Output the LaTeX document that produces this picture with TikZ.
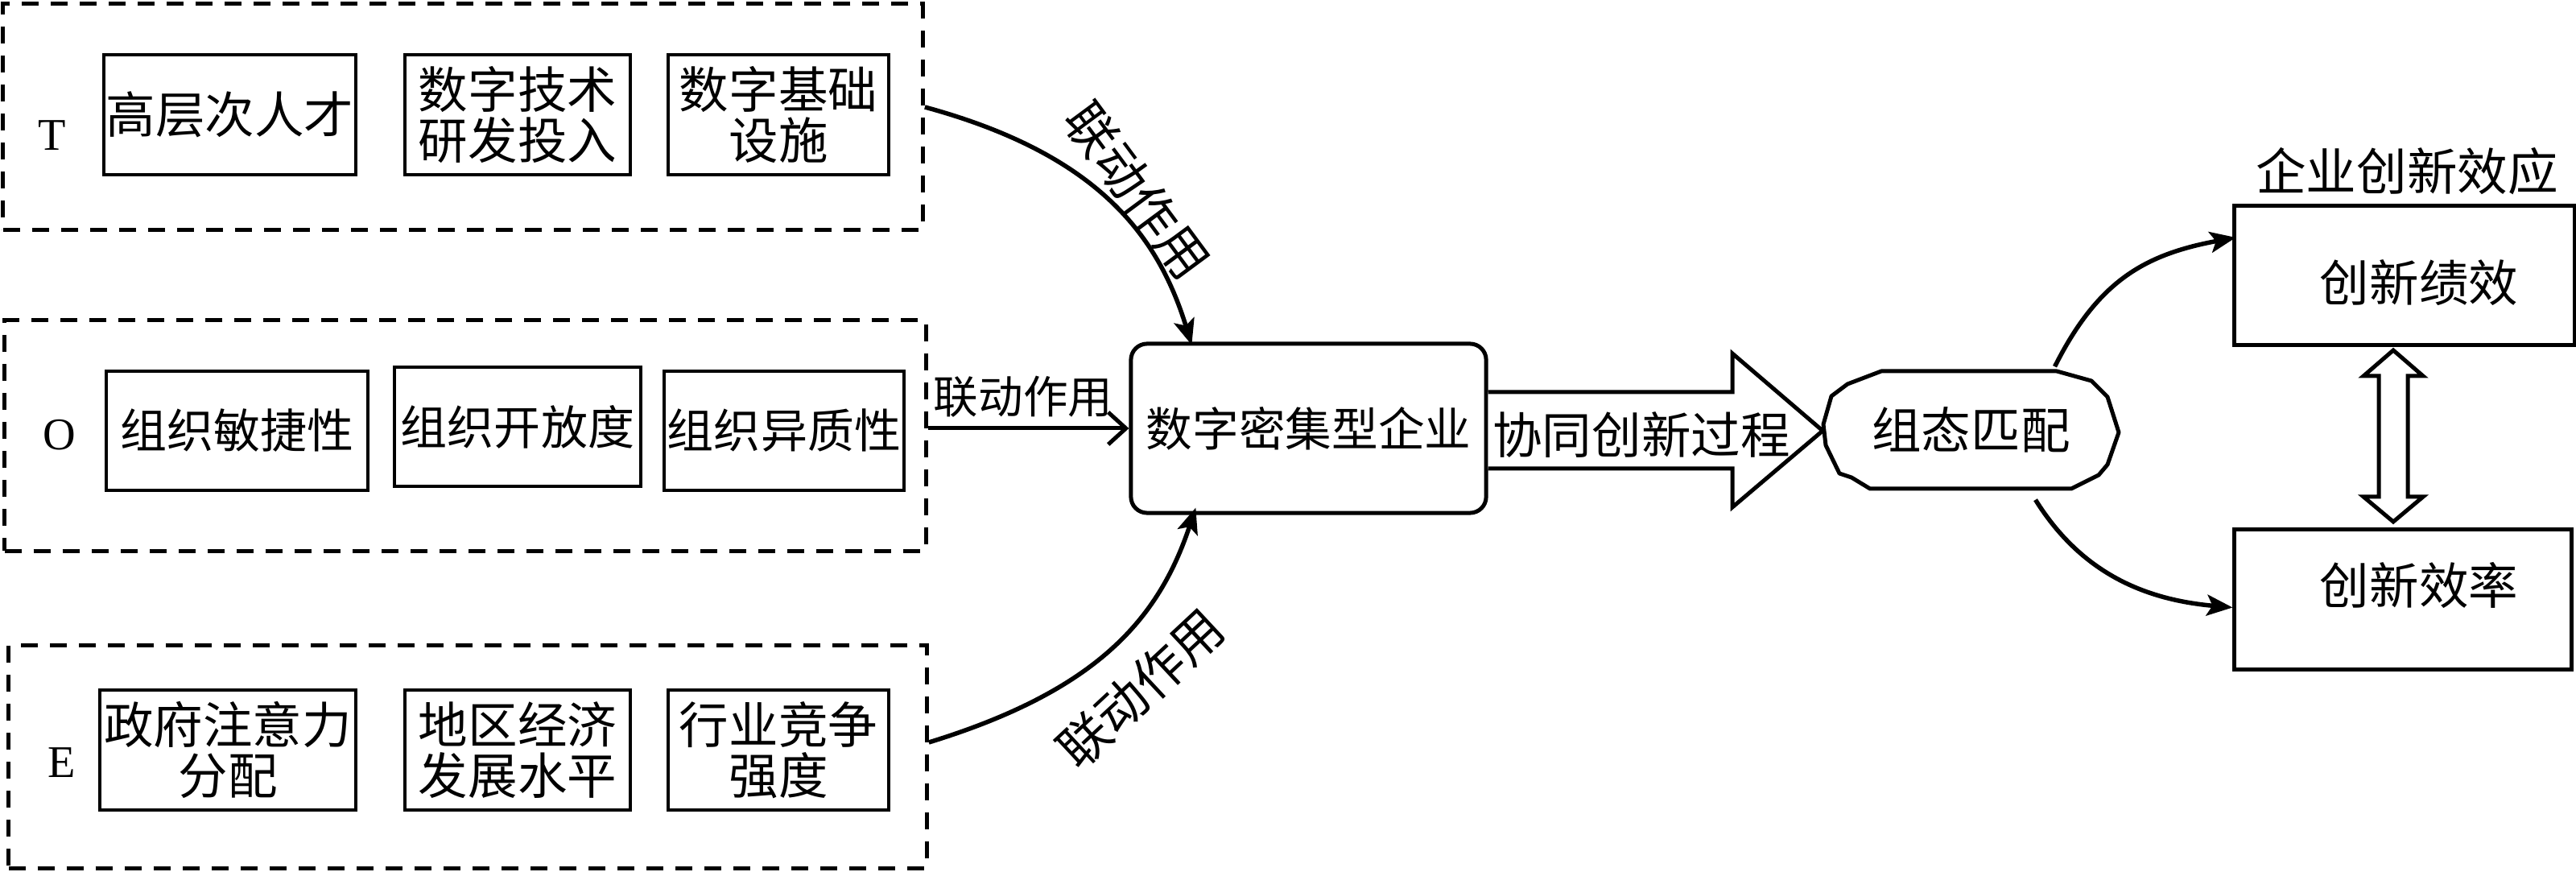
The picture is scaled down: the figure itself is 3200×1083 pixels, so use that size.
\documentclass[tikz,border=0pt]{standalone}
\usepackage{fontspec}
\setmainfont{Noto Sans CJK SC}
\newfontfamily\latfont{Liberation Serif}
\usetikzlibrary{arrows.meta,calc}
\newcommand\fsz[1]{\fontsize{#1pt}{18pt}\selectfont}
\begin{document}
\begin{tikzpicture}[x=0.01cm,y=-0.01cm,
  grp/.style={draw, line width=0.05cm, dash pattern=on 0.21cm off 0.15cm},
  ibox/.style={draw, line width=0.045cm, inner sep=0pt, align=center, font=\fsz{17.5}},
  conn/.style={line width=0.055cm, -{Stealth[length=0.32cm,width=0.26cm,inset=0.07cm]}},
  lbl/.style={inner sep=0pt, font=\fsz{17.5}},
  letterlbl/.style={inner sep=0pt, font=\latfont\fsz{16}},
  rbox/.style={draw, line width=0.05cm, inner sep=0pt},
  outl/.style={draw, line width=0.05cm, fill=white, line join=miter},
]
\useasboundingbox (0,0) rectangle (3200,1083);

% ---- group frames ----
\node[grp, minimum width=11.42cm, minimum height=2.80cm] (Tbox) at (575,145) {};
\node[grp, minimum width=11.44cm, minimum height=2.86cm] (Obox) at (578,541) {};
\node[grp, minimum width=11.40cm, minimum height=2.76cm] (Ebox) at (581,940) {};

\node[letterlbl] (Tl) at (65,168) {T};
\node[letterlbl] (Ol) at (74,540) {O};
\node[letterlbl] (El) at (77,947) {E};

% ---- T items ----
\node[ibox, minimum width=3.13cm, minimum height=1.49cm] (t1) at (285.5,142.5) {高层次人才};
\node[ibox, minimum width=2.80cm, minimum height=1.49cm] (t2) at (643,142.5) {数字技术\\研发投入};
\node[ibox, minimum width=2.74cm, minimum height=1.49cm] (t3) at (967,142.5) {数字基础\\设施};

% ---- O items ----
\node[ibox, font=\fsz{16.5}, minimum width=3.25cm, minimum height=1.48cm] (o1) at (294.5,535) {组织敏捷性};
\node[ibox, font=\fsz{16.5}, minimum width=3.06cm, minimum height=1.48cm] (o2) at (643,530) {组织开放度};
\node[ibox, font=\fsz{16.5}, minimum width=2.98cm, minimum height=1.48cm] (o3) at (974,535) {组织异质性};

% ---- E items ----
\node[ibox, minimum width=3.18cm, minimum height=1.49cm] (e1) at (283,931.5) {政府注意力\\分配};
\node[ibox, minimum width=2.80cm, minimum height=1.49cm] (e2) at (643,931.5) {地区经济\\发展水平};
\node[ibox, minimum width=2.74cm, minimum height=1.49cm] (e3) at (967,931.5) {行业竞争\\强度};

% ---- central firm box ----
\node[draw, line width=0.05cm, rounded corners=0.2cm, minimum width=4.41cm, minimum height=2.10cm,
      inner sep=0pt, font=\fsz{16.4}] (cbox) at (1625.5,532) {数字密集型企业};

% ---- connectors into the firm ----
\draw[conn] ($(Tbox.east)+(0,-12)$) .. controls (1358,190) and (1437,287) .. ($(cbox.north west)+(78,4)$);
\draw[line width=0.05cm, -{Straight Barb[length=0.22cm,width=0.4cm]}] (Obox.east |- cbox.west) -- (cbox.west);
\draw[conn] ($(Ebox.east)+(0,-18)$) .. controls (1362,858) and (1439,770) .. ($(cbox.south west)+(83,-9)$);

\node[lbl, rotate=-53.5, font=\fsz{18}] (labT) at (1413,237) {联动作用};
\node[lbl, font=\fsz{15.8}] (labO) at (1271,493) {联动作用};
\node[lbl, rotate=43, font=\fsz{18}] (labE) at (1417,855) {联动作用};

% ---- configuration node ----
\node[inner sep=0pt, minimum width=3.67cm, minimum height=1.46cm, font=\fsz{17.5}] (zt) at (2448.5,534) {组态匹配};
\draw[line width=0.05cm, line join=round]
  (2337,461) -- (2555,461) -- (2598,473) -- (2618,493) -- (2632,537) -- (2618,577) -- (2607,590)
  -- (2573,607) -- (2323,607) -- (2300,593) -- (2285,588) -- (2268,553) -- (2265,527)
  -- (2275,492) -- (2295,477) -- cycle;

% ---- big hollow arrow: synergy process ----
\draw[outl] (cbox.east |- 0,487) -- (2152,487) -- (2152,439) -- (zt.west |- 0,535) -- (2152,630) -- (2152,582) -- (cbox.east |- 0,582);
\node[lbl] (proc) at (2039,540) {协同创新过程};

% ---- innovation effects ----
\node[lbl, font=\fsz{17.8}] (title) at (2990,213) {企业创新效应};
\node[rbox, minimum width=4.22cm, minimum height=1.72cm] (r1) at (2987,342) {};
\node[rbox, minimum width=4.18cm, minimum height=1.73cm] (r2) at (2985,744.5) {};
\node[lbl] (r1t) at ($(r1)+(18,9)$) {创新绩效};
\node[lbl] (r2t) at ($(r2)+(20,-18)$) {创新效率};

\draw[conn] ($(zt.north)+(104,-5)$) .. controls (2606,349) and (2664,316) .. ($(r1.west)+(4,-47)$);
\draw[conn] ($(zt.south)+(80,13)$) .. controls (2586,713) and (2666,745) .. ($(r2.west)+(0,10)$);

% ---- hollow double arrow ----
\draw[outl] (2973,435) -- (3010,467) -- (2991,467) -- (2991,617) -- (3010,617) -- (2973,648)
  -- (2936,617) -- (2955,617) -- (2955,467) -- (2936,467) -- cycle;
\end{tikzpicture}
\end{document}
